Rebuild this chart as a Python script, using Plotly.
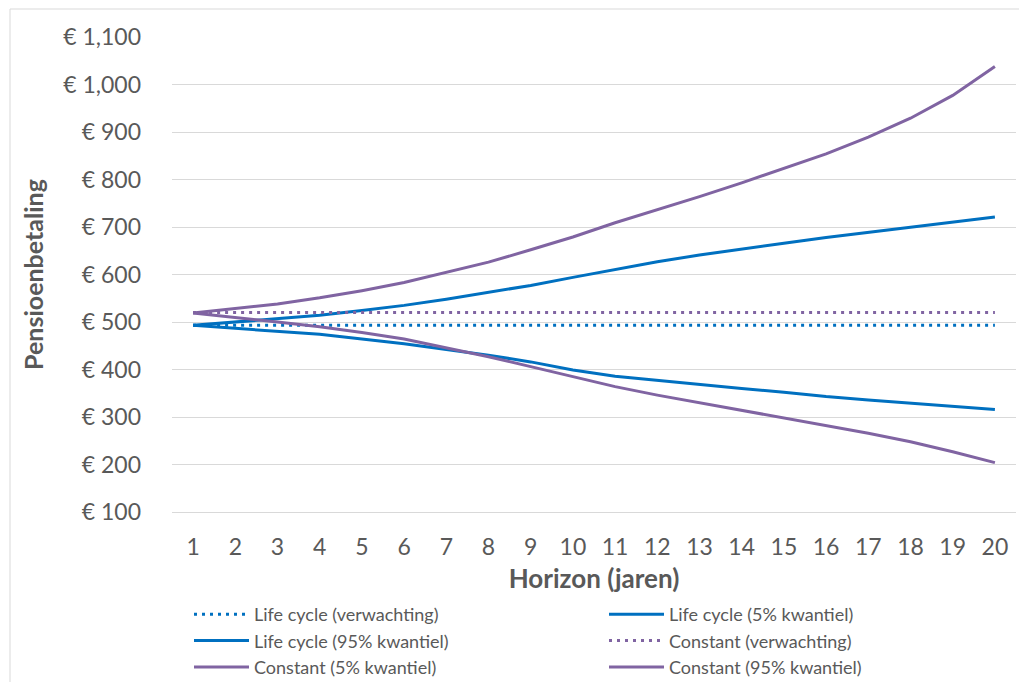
import plotly.graph_objects as go

# Horizon in years
horizon = list(range(1, 21))

# Monthly pension payment per strategy and scenario (euro)
lc_expected = [493] * 20
lc_q05 = [493, 487, 481, 474, 464, 454, 442, 430, 416, 399, 386, 377, 368, 360, 352, 343, 336, 329, 323, 316]
lc_q95 = [493, 500, 506, 514, 524, 535, 548, 562, 577, 594, 611, 627, 641, 654, 666, 678, 689, 700, 710, 721]
const_expected = [520] * 20
const_q05 = [519, 510, 500, 490, 478, 464, 446, 427, 406, 385, 364, 346, 330, 314, 299, 283, 266, 248, 227, 204]
const_q95 = [519, 528, 538, 551, 566, 583, 604, 626, 652, 679, 709, 736, 764, 793, 823, 854, 889, 929, 977, 1038]

series_names = [
    "Life cycle (verwachting)",
    "Life cycle (5% kwantiel)",
    "Life cycle (95% kwantiel)",
    "Constant (verwachting)",
    "Constant (5% kwantiel)",
    "Constant (95% kwantiel)",
]

BLUE = "#0070C0"
PURPLE = "#8064A2"
GREY_TEXT = "#595959"
GRID = "#D9D9D9"
FONT = "Lato, 'Open Sans', sans-serif"

series = [
    (lc_expected, BLUE, "3px,5px"),
    (lc_q05, BLUE, "solid"),
    (lc_q95, BLUE, "solid"),
    (const_expected, PURPLE, "3px,5px"),
    (const_q05, PURPLE, "solid"),
    (const_q95, PURPLE, "solid"),
]

fig = go.Figure()
for name, (vals, color, dash) in zip(series_names, series):
    fig.add_trace(go.Scatter(
        x=horizon, y=vals, name=name, mode="lines",
        line=dict(color=color, width=3, dash=dash),
    ))

# plot-area geometry in pixels, used to place the outer frame and legend
W, H = 1019, 682
L, R, T, B = 172, 3, 37, 170
pw, ph = W - L - R, H - T - B

def px_x(p):
    return (p - L) / pw

def px_y(p):
    return (H - B - p) / ph

fig.update_layout(
    width=W, height=H,
    margin=dict(l=L, r=R, t=T, b=B),
    paper_bgcolor="white", plot_bgcolor="white",
    font=dict(family=FONT, color=GREY_TEXT),
    showlegend=True,
    legend=dict(
        orientation="h", x=px_x(208), xanchor="left",
        yref="container", y=1 - 596 / H, yanchor="top",
        entrywidth=345, entrywidthmode="pixels", itemwidth=55,
        font=dict(size=18, color=GREY_TEXT, family=FONT),
        tracegroupgap=0, bgcolor="rgba(0,0,0,0)",
    ),
    xaxis=dict(
        range=[0.5, 20.5], tickmode="array", tickvals=horizon,
        ticktext=[str(h) for h in horizon],
        showgrid=False, zeroline=False,
        showline=True, linecolor=GRID, linewidth=1,
        ticks="", ticklabelstandoff=14, tickfont=dict(size=23, color=GREY_TEXT),
        title=dict(text="<b>Horizon (jaren)</b>", font=dict(size=26, color=GREY_TEXT), standoff=11),
    ),
    yaxis=dict(
        range=[100, 1100], dtick=100, tick0=100,
        tickprefix="€ ", tickformat=",d",
        showgrid=True, gridcolor=GRID, gridwidth=1, zeroline=False,
        showline=False, ticks="", ticklabelstandoff=30,
        tickfont=dict(size=23, color=GREY_TEXT),
        title=dict(text="<b>Pensioenbetaling</b>", font=dict(size=25, color=GREY_TEXT), standoff=12),
    ),
    shapes=[dict(
        type="rect", xref="paper", yref="paper",
        x0=px_x(10), x1=px_x(1040), y0=px_y(9), y1=px_y(720),
        line=dict(color=GRID, width=1), fillcolor="rgba(0,0,0,0)", layer="below",
    )],
)

fig.write_html("out.html")
